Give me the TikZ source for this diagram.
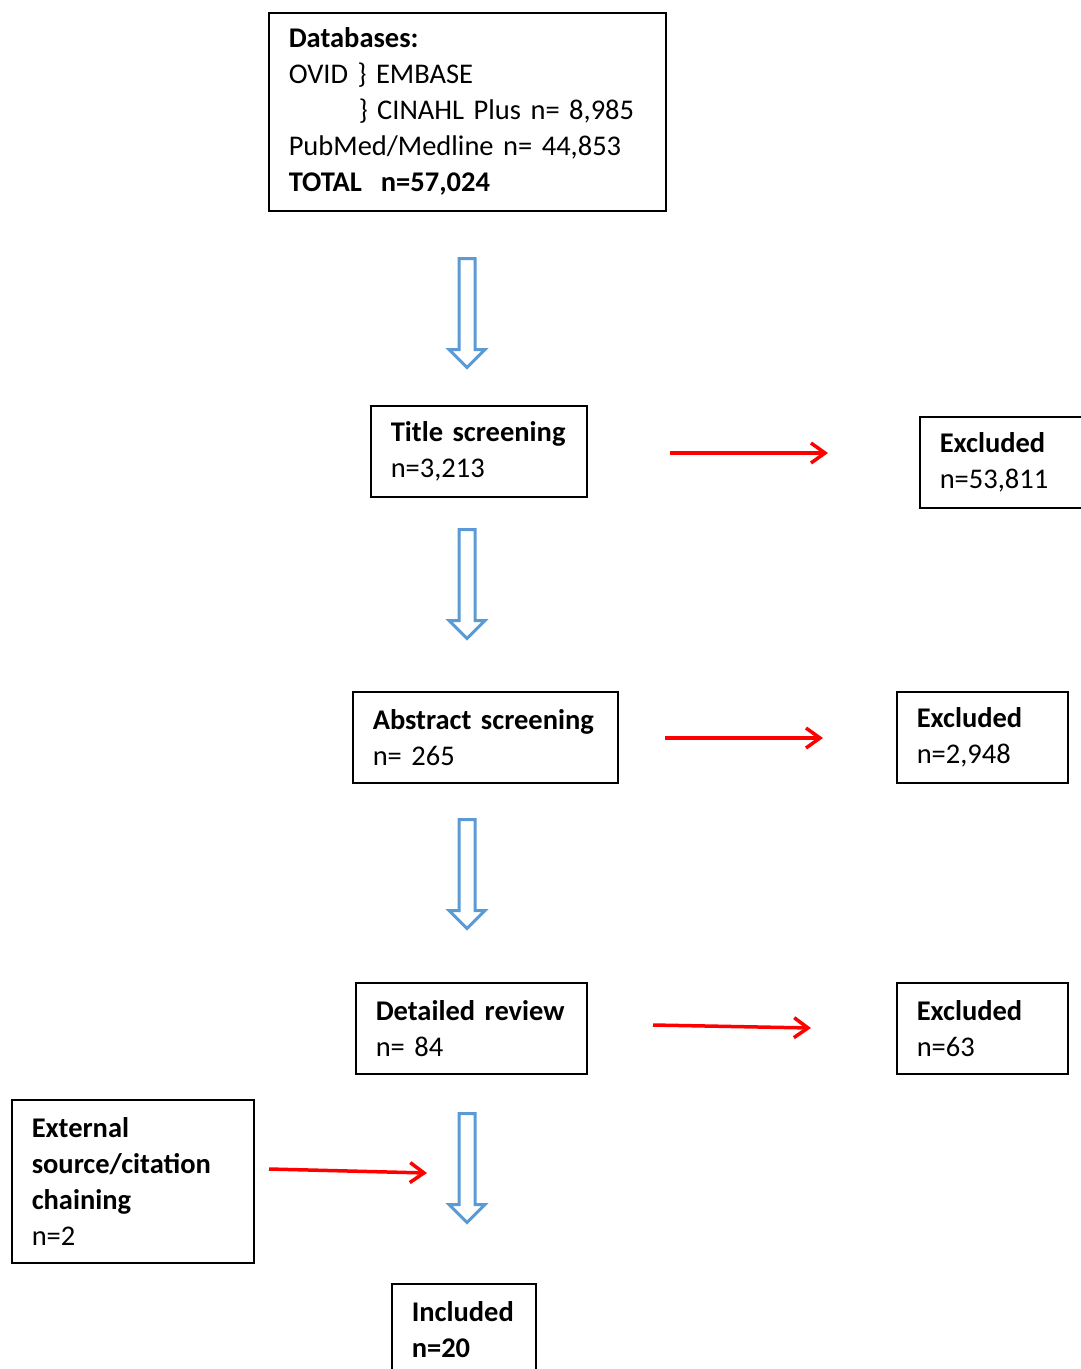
\documentclass[tikz,border=0pt]{standalone}
\usepackage{fontspec}
\setmainfont{Carlito}
\usetikzlibrary{arrows.meta, shapes.arrows}
\usepackage{xcolor}
\definecolor{flowblue}{RGB}{91,155,213}
\definecolor{flowred}{RGB}{255,0,0}

\begin{document}
\begin{tikzpicture}[x=1pt, y=-1pt,
  box/.style={draw=black, line width=1.5pt, anchor=north west, inner xsep=20pt, inner ysep=0pt,
    align=left, minimum height=91pt, font=\fontsize{28.5}{36}\selectfont},
  downarrow/.style={single arrow, draw=flowblue, fill=white, line width=3pt, rotate=-90,
    inner xsep=0pt, inner ysep=6.5pt, minimum height=109pt, minimum width=0pt, single arrow head extend=10pt},
  redarrow/.style={draw=flowred, line width=3.5pt, -{Straight Barb[length=14pt, width=20pt]}}]

\useasboundingbox (0,0) rectangle (1081,1369); % same size as the page

% boxes
\node[box, minimum width=397pt, minimum height=198pt, text width=357pt] (db) at (268,12)
  {\textbf{Databases:}\\OVID\ \} EMBASE\\\hspace*{70pt}\} CINAHL Plus n= 8,985\\PubMed/Medline n= 44,853\\\textbf{TOTAL\ \ n=57,024}};
\node[box, text width=176pt] (title) at (370,405) {\textbf{Title~screening}\\n=3,213};
\node[box, text width=131pt] (exc1) at (919,416) {\textbf{Excluded}\\n=53,811};
\node[box, text width=225pt] (abstract) at (352,691) {\textbf{Abstract~screening}\\n= 265};
\node[box, text width=131pt] (exc2) at (896,691) {\textbf{Excluded}\\n=2,948};
\node[box, text width=191pt] (detail) at (355,982) {\textbf{Detailed~review}\\n= 84};
\node[box, text width=131pt] (exc3) at (896,982) {\textbf{Excluded}\\n=63};
\node[box, text width=202pt, minimum height=163pt] (extern) at (11,1099)
  {\textbf{External}\\\textbf{source/citation}\\\textbf{chaining}\\n=2};
\node[box, text width=104pt] (incl) at (391,1283) {\textbf{Included}\\\textbf{n=20}};

% blue arrows down
\node[downarrow] (d1) at (467,309) {};
\node[downarrow] (d2) at (467,580) {};
\node[downarrow] (d3) at (467,870) {};
\node[downarrow] (d4) at (467,1164) {};

% red arrows
\coordinate (r1s) at (670,453);  \coordinate (r1e) at (828,453);
\coordinate (r2s) at (665,738);  \coordinate (r2e) at (823,738);
\coordinate (r3s) at (653,1025); \coordinate (r3e) at (811,1028);
\coordinate (r4s) at (269,1169); \coordinate (r4e) at (427,1173);
\draw[redarrow] (r1s) -- (r1e);
\draw[redarrow] (r2s) -- (r2e);
\draw[redarrow] (r3s) -- (r3e);
\draw[redarrow] (r4s) -- (r4e);

\end{tikzpicture}
\end{document}
